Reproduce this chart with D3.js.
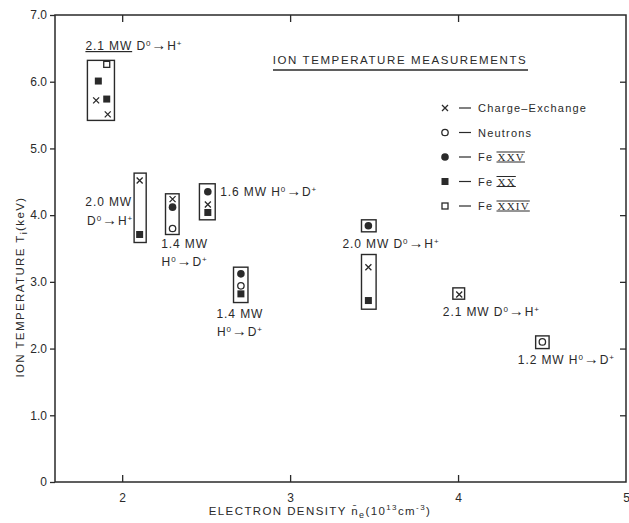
<!DOCTYPE html>
<html>
<head>
<meta charset="utf-8">
<script src="https://cdn.jsdelivr.net/npm/d3@7"></script>
<style>
  body { margin: 0; background: #fff; }
  svg { display: block; font-family: "Liberation Sans", Arial, sans-serif; }
  .lbl { fill: #2a2a2a; font-size: 11px; letter-spacing: 0.8px; }
  .beam { font-size: 12px; letter-spacing: 0.9px; }
</style>
</head>
<body>
<svg id="chart" width="629" height="523"></svg>
<script>
// Electron density (10^13 cm^-3) and ion temperature (keV) per diagnostic
const chargeExchange = [[1.845, 5.72], [1.914, 5.51], [2.104, 4.52], [2.30, 4.24], [2.51, 4.16], [3.466, 3.22], [4.007, 2.81]];
const neutrons       = [[2.30, 3.80], [2.707, 2.94], [4.502, 2.10]];
const feXXV          = [[2.30, 4.12], [2.51, 4.35], [2.707, 3.12], [3.466, 3.84]];
const feXX           = [[1.858, 6.01], [1.908, 5.74], [2.104, 3.71], [2.51, 4.04], [2.707, 2.82], [3.466, 2.72]];
const feXXIV         = [[1.908, 6.26]];

// Grouping boxes: [density lo, density hi, T lo, T hi]
const groupBoxes = [
  [1.793, 1.954, 5.42, 6.32],
  [2.071, 2.143, 3.59, 4.63],
  [2.258, 2.339, 3.71, 4.32],
  [2.460, 2.554, 3.93, 4.47],
  [2.663, 2.749, 2.69, 3.22],
  [3.425, 3.512, 3.75, 3.93],
  [3.425, 3.512, 2.59, 3.41],
  [3.969, 4.039, 2.74, 2.91],
  [4.462, 4.542, 2.00, 2.19]
];

const xTicks = [2, 3, 4, 5];
const yTicks = [0, 1, 2, 3, 4, 5, 6, 7];

const svg = d3.select("#chart");
const ink = "#2a2a2a";
const x = d3.scaleLinear().domain([1.6, 5.0]).range([55, 626]);
const y = d3.scaleLinear().domain([0, 7]).range([482, 15]);

// Frame
svg.append("rect")
  .attr("x", x(1.6)).attr("y", y(7))
  .attr("width", x(5) - x(1.6)).attr("height", y(0) - y(7))
  .attr("fill", "none").attr("stroke", ink).attr("stroke-width", 1.5);

function styleAxis(g) {
  g.select(".domain").remove();
  g.selectAll(".tick line").attr("stroke", ink).attr("stroke-width", 1.3);
  g.selectAll(".tick text").attr("fill", ink)
    .style("font-size", "12px").style("font-family", "Liberation Sans, Arial, sans-serif");
}

svg.append("g").attr("transform", `translate(0,${y(0)})`)
  .call(d3.axisBottom(x).tickValues(xTicks).tickFormat(d3.format("d"))
    .tickSizeInner(-7).tickSizeOuter(0).tickPadding(11))
  .call(styleAxis)
  .call(g => g.selectAll(".tick").filter(d => d === 5).select("line").remove());

svg.append("g").attr("transform", `translate(0,${y(7)})`)
  .call(d3.axisTop(x).tickValues([2, 3, 4]).tickFormat("")
    .tickSizeInner(-7).tickSizeOuter(0))
  .call(styleAxis);

svg.append("g").attr("transform", `translate(${x(1.6)},0)`)
  .call(d3.axisLeft(y).tickValues(yTicks)
    .tickFormat(d => d === 0 ? "0" : d3.format(".1f")(d))
    .tickSizeInner(5).tickSizeOuter(0).tickPadding(3))
  .call(styleAxis);

svg.append("g").attr("transform", `translate(${x(5)},0)`)
  .call(d3.axisRight(y).tickValues([1, 2, 3, 4, 5, 6]).tickFormat("")
    .tickSizeInner(-6).tickSizeOuter(0))
  .call(styleAxis);

// Axis titles
const xt = svg.append("text").attr("class", "lbl")
  .attr("x", 320).attr("y", 515).attr("text-anchor", "middle")
  .style("font-size", "11.5px").style("letter-spacing", "1.4px");
xt.append("tspan").text("ELECTRON DENSITY ");
xt.append("tspan").text("n\u0304");
xt.append("tspan").attr("dy", 3).style("font-size", "9px").text("e");
xt.append("tspan").attr("dy", -3).text("(10");
xt.append("tspan").attr("dy", -5).style("font-size", "8px").text("13");
xt.append("tspan").attr("dy", 5).text("cm");
xt.append("tspan").attr("dy", -5).style("font-size", "8px").text("-3");
xt.append("tspan").attr("dy", 5).text(")");

const yt = svg.append("text").attr("class", "lbl")
  .attr("transform", "translate(24,287) rotate(-90)").attr("text-anchor", "middle")
  .style("font-size", "11.5px").style("letter-spacing", "1.4px");
yt.append("tspan").text("ION TEMPERATURE T");
yt.append("tspan").attr("dy", 3).style("font-size", "9px").text("i");
yt.append("tspan").attr("dy", -3).text("(keV)");

// Grouping boxes
svg.append("g").selectAll("rect").data(groupBoxes).join("rect")
  .attr("x", d => x(d[0])).attr("y", d => y(d[3]))
  .attr("width", d => x(d[1]) - x(d[0])).attr("height", d => y(d[2]) - y(d[3]))
  .attr("fill", "none").attr("stroke", ink).attr("stroke-width", 1.4);

// Marker drawers
const markers = {
  cross: (g, px, py) => g.append("path")
    .attr("d", `M${px - 3},${py - 3}L${px + 3},${py + 3}M${px - 3},${py + 3}L${px + 3},${py - 3}`)
    .attr("stroke", ink).attr("stroke-width", 1.3),
  ring: (g, px, py) => g.append("circle").attr("cx", px).attr("cy", py).attr("r", 3.2)
    .attr("fill", "#fff").attr("stroke", ink).attr("stroke-width", 1.3),
  dot: (g, px, py) => g.append("circle").attr("cx", px).attr("cy", py).attr("r", 3.8)
    .attr("fill", ink),
  square: (g, px, py) => g.append("rect").attr("x", px - 3.5).attr("y", py - 3.5)
    .attr("width", 7).attr("height", 7).attr("fill", ink),
  hollow: (g, px, py) => g.append("rect").attr("x", px - 3).attr("y", py - 3)
    .attr("width", 6).attr("height", 6).attr("fill", "#fff").attr("stroke", ink).attr("stroke-width", 1.3)
};

const series = [
  [chargeExchange, "cross"],
  [neutrons, "ring"],
  [feXXV, "dot"],
  [feXX, "square"],
  [feXXIV, "hollow"]
];
const pts = svg.append("g");
series.forEach(([data, kind]) => data.forEach(d => markers[kind](pts, x(d[0]), y(d[1]))));

// Beam annotation text helper: "P MW A⁰→B⁺"
function beam(g, parts) {
  parts.forEach(p => {
    const t = g.append("tspan").text(p[0]);
    if (p[1]) t.attr("dy", p[1]);
    if (p[2]) t.style("font-size", p[2]);
  });
}
function note(px, py, anchor, parts) {
  const t = svg.append("text").attr("class", "lbl beam")
    .attr("x", px).attr("y", py).attr("text-anchor", anchor);
  beam(t, parts);
  return t;
}
const DH = [["D"], ["0", -4, "8px"], ["\u2192", 4, "15px"], ["H"], ["+", -4, "8px"]];
const HD = [["H"], ["0", -4, "8px"], ["\u2192", 4, "15px"], ["D"], ["+", -4, "8px"]];

// Group annotations
const a1 = svg.append("text").attr("class", "lbl beam").attr("x", x(1.793) - 2).attr("y", 50);
a1.append("tspan").attr("text-decoration", "underline").text("2.1 MW");
a1.append("tspan").text(" ");
beam(a1, DH);

note(x(2.071) - 2, 206, "end", [["2.0 MW"]]);
note(x(2.071) - 1, 225, "end", DH);

note(x(2.30) + 12, 248, "middle", [["1.4 MW"]]);
note(x(2.30) + 12, 266, "middle", HD);

note(x(2.554) + 5, 196, "start", [["1.6 MW "], ...HD]);

note(x(2.707) - 1, 318, "middle", [["1.4 MW"]]);
note(x(2.707) - 1, 336, "middle", HD);

note(x(3.425) - 19, 248, "start", [["2.0 MW "], ...DH]);

note(x(3.969) - 10, 316, "start", [["2.1 MW "], ...DH]);

note(x(4.502) + 24, 364, "middle", [["1.2 MW "], ...HD]);

// Title
svg.append("text").attr("class", "lbl")
  .attr("x", 400).attr("y", 64).attr("text-anchor", "middle")
  .style("font-size", "11.5px").style("letter-spacing", "1.6px")
  .text("ION TEMPERATURE MEASUREMENTS");
svg.append("line").attr("x1", 273).attr("x2", 528).attr("y1", 70).attr("y2", 70)
  .attr("stroke", ink).attr("stroke-width", 1.3);

// Legend
const legendItems = [
  ["cross", "Charge\u2013Exchange", null],
  ["ring", "Neutrons", null],
  ["dot", "Fe ", "XXV"],
  ["square", "Fe ", "XX"],
  ["hollow", "Fe ", "XXIV"]
];
const lg = svg.append("g");
legendItems.forEach((it, i) => {
  const ly = 108 + i * 24.5;
  markers[it[0]](lg, 445, ly);
  lg.append("line").attr("x1", 459).attr("x2", 471).attr("y1", ly).attr("y2", ly)
    .attr("stroke", ink).attr("stroke-width", 1.2);
  const t = lg.append("text").attr("class", "lbl").attr("x", 478).attr("y", ly + 4)
    .style("letter-spacing", "1.2px");
  t.append("tspan").text(it[1]);
  if (it[2]) {
    const r = t.append("tspan").text(it[2]).style("font-family", "Liberation Serif, serif");
    // bars above and below the roman numeral, sized to the drawn glyphs
    const bb = t.node().getBBox();
    const w = r.node().getComputedTextLength();
    const x1 = bb.x + bb.width;
    const x0 = x1 - w;
    [ly - 5, ly + 5].forEach(by => lg.append("line")
      .attr("x1", x0 - 1).attr("x2", x1).attr("y1", by).attr("y2", by)
      .attr("stroke", ink).attr("stroke-width", 1));
  }
});
</script>
</body>
</html>
